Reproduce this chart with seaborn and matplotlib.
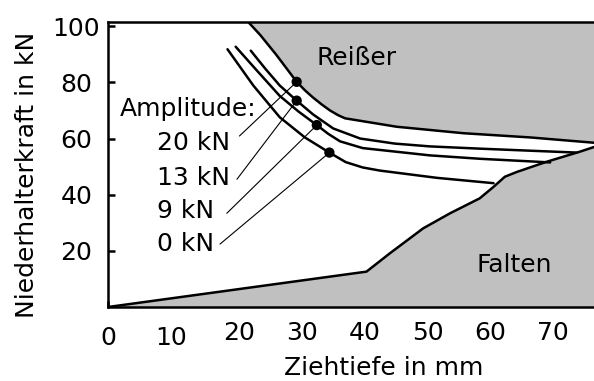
import matplotlib
matplotlib.use("Agg")
import matplotlib.pyplot as plt
import matplotlib.transforms as mtransforms
import seaborn as sns

# ---------------- data ----------------
# upper limit "Reißer" (equals the 20 kN amplitude curve)
reisser_x = [22.3, 24.2, 26.8, 30.0, 31.3, 32.6, 34.0, 35.3, 36.6, 37.7,
             45.9, 56.5, 67.1, 77.3]
reisser_y = [101.5, 96.9, 89.7, 80.2, 77.2, 74.6, 72.1, 70.0, 68.3, 67.2,
             64.2, 61.9, 60.4, 58.5]
# lower limit "Falten"
falten_x = [0.0, 41.1, 44.8, 50.1, 54.4, 59.1, 61.3, 63.1, 65.0, 69.7, 75.0, 77.3]
falten_y = [0.0, 12.6, 19.1, 28.0, 33.4, 38.7, 42.8, 46.4, 48.1, 51.7, 55.3, 57.0]
# amplitude curves
amp13_x = [22.7, 25.0, 27.3, 30.0, 32.6, 35.8, 40.1, 45.6, 51.2, 59.1, 74.5]
amp13_y = [91.3, 84.9, 78.9, 73.5, 68.6, 63.6, 60.0, 58.2, 57.2, 56.4, 55.0]
amp9_x = [20.3, 23.8, 27.3, 30.3, 33.2, 35.0, 36.9, 40.5, 51.2, 59.1, 70.3]
amp9_y = [92.7, 83.9, 75.2, 69.6, 64.8, 61.7, 59.0, 56.6, 54.0, 52.8, 51.5]
amp0_x = [19.0, 23.1, 27.3, 31.3, 35.2, 37.8, 40.5, 43.2, 52.3, 61.3]
amp0_y = [91.8, 78.9, 67.6, 60.4, 55.0, 51.6, 49.7, 48.6, 46.0, 44.1]
# marked points on the curves (20, 13, 9, 0 kN)
amp_labels = ["20 kN", "13 kN", "9 kN", "0 kN"]
marker_x = [30.0, 30.0, 33.2, 35.2]
marker_y = [80.2, 73.5, 64.8, 55.0]
# ticks
x_ticks = [0, 10, 20, 30, 40, 50, 60, 70]
y_ticks = [20, 40, 60, 80, 100]

# ---------------- style ----------------
sns.set_style("white")
plt.rcParams["font.family"] = ["DejaVu Sans"]
plt.rcParams["font.size"] = 18
for key in ["text.color", "axes.labelcolor", "xtick.color", "ytick.color"]:
    plt.rcParams[key] = "black"
FS = 18
GRAY = "#c0c0c0"
LW = 1.8

fig = plt.figure(figsize=(5.94, 3.81), dpi=100)
ax = fig.add_axes([0.1818, 0.1942, 0.8182, 0.748])
ax.set_xlim(0, 77.27)
ax.set_ylim(0, 101.5)

# gray regions
ax.fill_between(reisser_x, reisser_y, 101.5, color=GRAY, lw=0, zorder=1)
ax.fill_between(falten_x, 0, falten_y, color=GRAY, lw=0, zorder=1)

# boundary and curves
for xs, ys in [(reisser_x, reisser_y), (falten_x, falten_y),
               (amp13_x, amp13_y), (amp9_x, amp9_y), (amp0_x, amp0_y)]:
    sns.lineplot(x=xs, y=ys, sort=False, estimator=None, color="black",
                 lw=LW, ax=ax, zorder=3)

# leader lines from labels to the marked points
lab_left_x = 7.87
lab_base_y = [55.9, 43.4, 31.7, 19.9]
lead_start = [(20.9, 60.9), (20.5, 45.5), (18.9, 33.4), (17.8, 22.4)]
for lab, by, (sx, sy), mx, my in zip(amp_labels, lab_base_y, lead_start,
                                      marker_x, marker_y):
    ax.plot([sx, mx], [sy, my], color="black", lw=0.8, zorder=4)
    ax.text(lab_left_x, by, lab, ha="left", va="baseline", fontsize=FS,
            zorder=5)
ax.text(1.9, 68.0, "Amplitude:", ha="left", va="baseline", fontsize=FS,
        zorder=5)

sns.scatterplot(x=marker_x, y=marker_y, color="black", s=55,
                edgecolor="none", ax=ax, zorder=6)

ax.text(33.2, 86.2, "Reißer", ha="left", va="baseline", fontsize=FS, zorder=5)
ax.text(58.6, 12.6, "Falten", ha="left", va="baseline", fontsize=FS, zorder=5)

# axes styling
for side in ["left", "top", "bottom"]:
    ax.spines[side].set_visible(True)
    ax.spines[side].set_color("black")
    ax.spines[side].set_linewidth(LW)
    ax.spines[side].set_zorder(7)
ax.spines["right"].set_visible(False)

ax.set_xticks(x_ticks)
ax.set_yticks(y_ticks)
ax.set_xticklabels([str(v) for v in x_ticks])
ax.set_yticklabels([str(v) for v in y_ticks])
ax.tick_params(axis="x", direction="in", length=4, width=LW, pad=10,
               labelsize=FS, bottom=True, top=False, colors="black")
ax.tick_params(axis="y", direction="in", length=5, width=LW, pad=22.7,
               labelsize=FS, left=True, right=False, colors="black")
for lab in ax.get_yticklabels():
    lab.set_horizontalalignment("center")

for lab, v in zip(ax.get_xticklabels(), x_ticks):
    if v in (0, 10):
        off = mtransforms.ScaledTranslation(0 / 72, -3.6 / 72, fig.dpi_scale_trans)
    else:
        off = mtransforms.ScaledTranslation(3.6 / 72, 0, fig.dpi_scale_trans)
    lab.set_transform(lab.get_transform() + off)

ax.set_xlabel("Ziehtiefe in mm", fontsize=FS, color="black")
ax.set_ylabel("Niederhalterkraft in kN", fontsize=FS, color="black")
ax.xaxis.set_label_coords(0.568, -0.172)
ax.yaxis.set_label_coords(-0.1424, 0.463)
ax.grid(False)

fig.savefig("out.png", dpi=100)
